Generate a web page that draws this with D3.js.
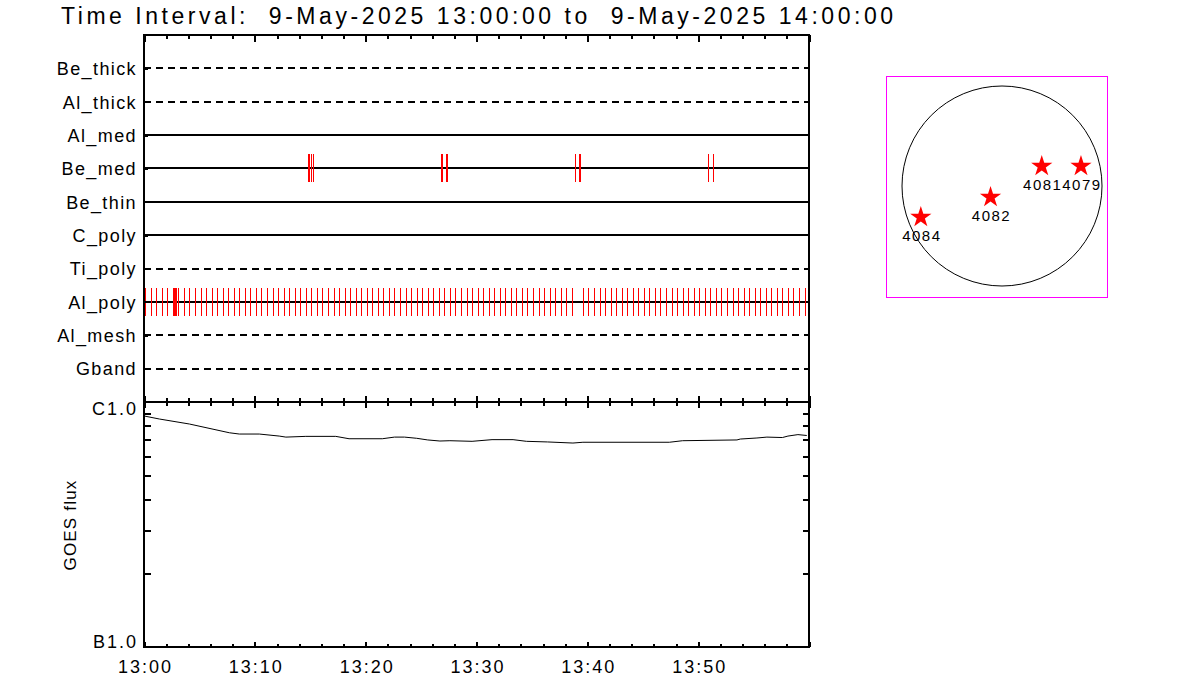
<!DOCTYPE html>
<html><head><meta charset="utf-8">
<script src="https://cdn.jsdelivr.net/npm/d3@7"></script>
<style>
body{margin:0;background:#fff}
text{font-family:"Liberation Sans",Arial,sans-serif;fill:#000}
</style></head>
<body><svg id="c" width="1200" height="700"></svg>
<script>
// ---------------- data ----------------
const titleText = "Time Interval:  9-May-2025 13:00:00 to  9-May-2025 14:00:00";
const rowNames = ["Be_thick","Al_thick","Al_med","Be_med","Be_thin","C_poly","Ti_poly","Al_poly","Al_mesh","Gband"];
const rowInUse = [false,false,true,true,true,true,false,true,false,false];
// event times, minutes after 13:00
const beMedEvents = [14.80,14.89,15.07,15.25,26.84,26.93,27.28,27.37,38.92,39.29,39.38,50.92,51.34];
const alPolyEvents = [0.1,0.6,1.1,1.6,2.1,2.6,2.72,2.83,2.93,3.1,3.6,4.1,4.6,5.1,5.6,6.1,6.6,7.1,7.6,8.1,8.6,9.1,9.6,
  10.1,10.6,11.1,11.6,12.1,12.6,13.1,13.6,14.1,14.6,15.1,15.6,16.1,16.6,17.1,17.6,18.1,18.6,19.1,19.6,
  20.1,20.6,21.1,21.6,22.1,22.6,23.1,23.6,24.1,24.6,25.1,25.6,26.1,26.6,27.1,27.6,28.1,28.6,29.1,29.6,
  30.1,30.6,31.1,31.6,32.1,32.6,33.1,33.6,34.1,34.6,35.1,35.6,36.1,36.6,37.1,37.6,38.1,38.6,39.6,
  40.1,40.6,41.1,41.6,42.1,42.6,43.1,43.6,44.1,44.6,45.1,45.6,46.1,46.6,47.1,47.6,48.1,48.6,49.1,49.6,
  50.1,50.6,51.1,51.6,52.1,52.6,53.1,53.6,54.1,54.6,55.1,55.6,56.1,56.6,57.1,57.6,58.1,58.6,59.1,59.6];
const rowEvents = {"Be_med": beMedEvents, "Al_poly": alPolyEvents};
// GOES flux (W/m^2)
const goesMinutes = [0,1.4,4.1,7.7,8.6,10.4,12.2,12.8,14.6,17.3,18.5,21.5,22.6,23.5,24.6,25.6,26.7,27.6,29.6,31.4,33.3,34.5,36.4,38.7,39.6,47.4,48.6,53.5,53.8,55.3,56.2,57.6,58.1,59.0,59.8];
const goesFlux = [8.77e-6,8.52e-6,8.13e-6,7.49e-6,7.40e-6,7.40e-6,7.26e-6,7.19e-6,7.24e-6,7.24e-6,7.08e-6,7.08e-6,7.19e-6,7.19e-6,7.11e-6,7.00e-6,6.93e-6,6.95e-6,6.91e-6,7.02e-6,7.02e-6,6.91e-6,6.87e-6,6.80e-6,6.85e-6,6.85e-6,6.95e-6,7.00e-6,7.06e-6,7.13e-6,7.19e-6,7.16e-6,7.26e-6,7.36e-6,7.30e-6];
const goesMajor = [1e-6,1e-5];
const goesMajorLabels = ["B1.0","C1.0"];
const goesMinor = [2e-6,3e-6,4e-6,5e-6,6e-6,7e-6,8e-6,9e-6];
// active regions (arcsec from disk centre)
const regionIds = ["4084","4082","4081","4079"];
const regionX = [-772,-109,378,751];
const regionY = [-297,-107,188,188];
const solarRadius = 951;

// ---------------- layout ----------------
const svg = d3.select("#c");
svg.append("rect").attr("width",1200).attr("height",700).attr("fill","#fff");
const L=144, R=809, T1=35, B1=402, B2=647;
const t0 = new Date(Date.UTC(2025,4,9,13,0,0)), t1 = new Date(Date.UTC(2025,4,9,14,0,0));
const tm = m => new Date(t0.getTime()+m*60000);
const x = d3.scaleUtc().domain([t0,t1]).range([L,R]);
const minorT = d3.utcMinute.every(2).range(t0, tm(60.1));
const majorT = d3.utcMinute.every(10).range(t0, tm(60.1));

svg.append("text").attr("x",61).attr("y",24).attr("font-size",23)
  .attr("textLength",832).attr("lengthAdjust","spacing").style("white-space","pre").text(titleText);

const crisp = g => g.attr("shape-rendering","crispEdges");

// ---------- top panel ----------
const yRow = d3.scalePoint().domain(rowNames).range([T1,B1]).padding(1);
const rows = svg.append("g").call(crisp);
rowNames.forEach((n,i)=>{
  rows.append("line").attr("x1",L).attr("x2",R).attr("y1",yRow(n)).attr("y2",yRow(n))
    .attr("stroke","#000").attr("stroke-width",2)
    .attr("stroke-dasharray", rowInUse[i] ? null : "7,5");
});
Object.entries(rowEvents).forEach(([n,ev])=>{
  rows.selectAll(null).data(ev).enter().append("line")
    .attr("x1",d=>Math.round(x(tm(d)))+0.5).attr("x2",d=>Math.round(x(tm(d)))+0.5)
    .attr("y1",yRow(n)-14).attr("y2",yRow(n)+14).attr("stroke","#ff0000").attr("stroke-width",1);
});
const rowAxis = svg.append("g").attr("transform",`translate(${L},0)`)
  .call(d3.axisLeft(yRow).tickSize(-4).tickPadding(7)).call(crisp);
rowAxis.select(".domain").remove();
rowAxis.selectAll("line").attr("stroke-width",2);
rowAxis.selectAll("text").attr("font-size",18).attr("font-family","Liberation Sans, Arial, sans-serif")
  .style("letter-spacing","1.4px").attr("dy","0.35em");

function timeTicks(y, dir, minorLen, majorLen){
  const mk = (vals,len)=>{
    const ax = (dir==="down"? d3.axisBottom(x) : d3.axisTop(x)).tickValues(vals).tickSize(len).tickFormat("");
    const g = svg.append("g").attr("transform",`translate(0,${y})`).call(ax).call(crisp);
    g.select(".domain").remove();
    g.selectAll("line").attr("stroke-width",2);
  };
  mk(minorT,minorLen); mk(majorT,majorLen);
}
timeTicks(T1,"down",4,7);
timeTicks(B1,"up",4,6);
timeTicks(B1,"down",4,6);
timeTicks(B2,"up",3,5);

// ---------- GOES panel ----------
const y = d3.scaleLog().domain([1e-6,1e-5]).range([B2,B1]);
const line = d3.line().x((d,i)=>x(tm(goesMinutes[i]))).y(d=>y(d));
svg.append("path").datum(goesFlux).attr("d",line).attr("fill","none").attr("stroke","#000").attr("stroke-width",1);

const gl = svg.append("g").attr("transform",`translate(${L},0)`)
  .call(d3.axisLeft(y).tickValues(goesMinor).tickSize(-7).tickFormat("")).call(crisp);
gl.select(".domain").remove(); gl.selectAll("line").attr("stroke-width",2);
const gr = svg.append("g").attr("transform",`translate(${R},0)`)
  .call(d3.axisRight(y).tickValues(goesMinor).tickSize(-6).tickFormat("")).call(crisp);
gr.select(".domain").remove(); gr.selectAll("line").attr("stroke-width",2);
const glab = svg.append("g").attr("transform",`translate(${L},0)`)
  .call(d3.axisLeft(y).tickValues(goesMajor).tickSize(0).tickPadding(6)
  .tickFormat((d,i)=>goesMajorLabels[i]));
glab.select(".domain").remove();
glab.selectAll("text").attr("font-size",18).attr("font-family","Liberation Sans, Arial, sans-serif")
  .style("letter-spacing","2px").attr("dy",d=> d===1e-5 ? "0.72em" : "0em");

const xl = svg.append("g").attr("transform",`translate(0,${B2})`)
  .call(d3.axisBottom(x).tickValues(majorT.slice(0,6)).tickSize(0).tickPadding(13).tickFormat(d3.utcFormat("%H:%M")));
xl.select(".domain").remove();
xl.selectAll("text").attr("font-size",18).attr("font-family","Liberation Sans, Arial, sans-serif")
  .style("letter-spacing","2px").attr("dx","1px");

svg.append("text").attr("transform","translate(76,525) rotate(-90)").attr("text-anchor","middle")
  .attr("font-size",17).style("letter-spacing","1.2px").text("GOES flux");

// frames
svg.append("rect").attr("x",L).attr("y",T1).attr("width",R-L).attr("height",B1-T1)
  .attr("fill","none").attr("stroke","#000").attr("stroke-width",2).call(crisp);
svg.append("rect").attr("x",L).attr("y",B1).attr("width",R-L).attr("height",B2-B1)
  .attr("fill","none").attr("stroke","#000").attr("stroke-width",2).call(crisp);

// ---------- solar disk panel ----------
const sx = d3.scaleLinear().domain([-solarRadius,solarRadius]).range([902,1102]);
const sy = d3.scaleLinear().domain([-solarRadius,solarRadius]).range([286,86]);
svg.append("rect").attr("x",886.5).attr("y",76.5).attr("width",221).attr("height",221)
  .attr("fill","none").attr("stroke","#ff00ff").attr("stroke-width",1);
svg.append("circle").attr("cx",sx(0)).attr("cy",sy(0)).attr("r",sx(solarRadius)-sx(0))
  .attr("fill","none").attr("stroke","#000").attr("stroke-width",1);
const star = d3.symbol().type(d3.symbolStar).size(140);
regionIds.forEach((id,i)=>{
  const cx = sx(regionX[i]), cy = sy(regionY[i]);
  svg.append("path").attr("d",star()).attr("transform",`translate(${cx},${cy})`).attr("fill","#ff0000");
  svg.append("text").attr("x",cx+1).attr("y",cy+24).attr("text-anchor","middle")
    .attr("font-size",15).style("letter-spacing","1.5px").text(id);
});
</script></body></html>
